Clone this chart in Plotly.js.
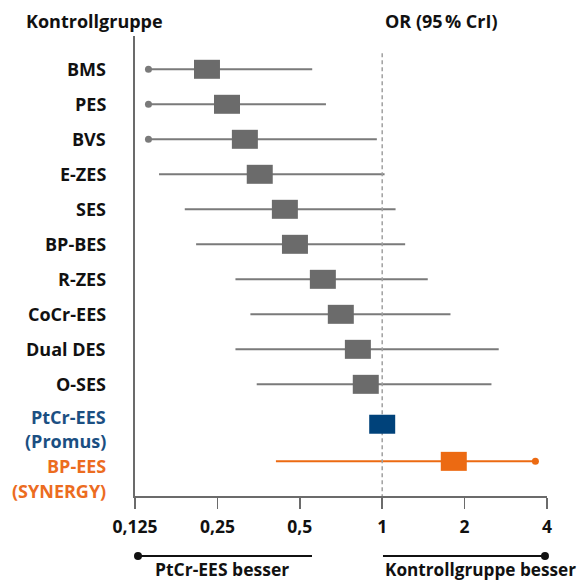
<!DOCTYPE html>
<html>
<head>
<meta charset="utf-8">
<script src="https://cdn.plot.ly/plotly-3.0.1.min.js"></script>
<style>
  html, body { margin: 0; padding: 0; background: #ffffff; }
  #chart { width: 588px; height: 581px; }
</style>
</head>
<body>
<div id="chart"></div>
<script>
// Network meta-analysis: odds ratios vs. PtCr-EES (Promus) with 95% credible intervals
const categories = ["BMS", "PES", "BVS", "E-ZES", "SES", "BP-BES", "R-ZES", "CoCr-EES",
                    "Dual DES", "O-SES", "PtCr-EES\n(Promus)", "BP-EES\n(SYNERGY)"];
const orMedian = [0.229, 0.271, 0.315, 0.357, 0.441, 0.480, 0.607, 0.706, 0.815, 0.871, 1, 1.826];
const crILower = [0.14, 0.14, 0.14, 0.153, 0.190, 0.209, 0.291, 0.330, 0.291, 0.348, null, 0.409];
const crIUpper = [0.555, 0.623, 0.956, 1.02, 1.119, 1.213, 1.467, 1.776, 2.665, 2.507, null, 3.628];
// Intervals that continue past the drawn end are marked with a dot
const lowerDot = [true, true, true, false, false, false, false, false, false, false, false, false];
const upperDot = [false, false, false, false, false, false, false, false, false, false, false, true];
const tickVals = [0.125, 0.25, 0.5, 1, 2, 4];
const tickText = ["0,125", "0,25", "0,5", "1", "2", "4"];

const GREY = "#6b6b6b";
const LINE_GREY = "#7a7a7a";
const BLUE = "#00427a";
const ORANGE = "#ec6a12";
const FONT = "Open Sans, Noto Sans, sans-serif";

// vertical placement: evenly spaced rows, extra room before the two highlighted stents
function rowY(i) {
  if (i < 10) return i;
  return i === 10 ? 10.14 : 11.2;
}
function rowColor(i) {
  if (i === 10) return BLUE;
  if (i === 11) return ORANGE;
  return GREY;
}
function labelColor(i) {
  if (i === 10) return "#1b4f82";
  if (i === 11) return "#ec6c1f";
  return "#111111";
}

const traces = [];
function segTrace(idx, color) {
  const xs = [], ys = [];
  idx.forEach(i => {
    if (crILower[i] == null) return;
    xs.push(crILower[i], crIUpper[i], null);
    ys.push(rowY(i), rowY(i), null);
  });
  return { type: "scatter", mode: "lines", x: xs, y: ys, hoverinfo: "skip",
           line: { color: color, width: 2 }, showlegend: false };
}
const greyIdx = categories.map((_, i) => i).filter(i => i < 10);
traces.push(segTrace(greyIdx, LINE_GREY));
traces.push(segTrace([11], ORANGE));

// end dots
const dx = [], dy = [], dc = [];
categories.forEach((_, i) => {
  if (lowerDot[i]) { dx.push(crILower[i]); dy.push(rowY(i)); dc.push(i === 11 ? ORANGE : LINE_GREY); }
  if (upperDot[i]) { dx.push(crIUpper[i]); dy.push(rowY(i)); dc.push(i === 11 ? ORANGE : LINE_GREY); }
});
traces.push({ type: "scatter", mode: "markers", x: dx, y: dy, hoverinfo: "skip", showlegend: false,
              marker: { symbol: "circle", size: 7, color: dc, line: { width: 0 } }, cliponaxis: false });

const shapes = [];
// reference line at OR = 1
shapes.push({ type: "line", xref: "x", yref: "y", x0: 1, x1: 1, y0: -0.46, y1: 12.19,
              line: { color: "#a0a0a0", width: 1.5, dash: "4px,3px" } });
// point estimates: rectangles 26 px wide (a fixed ratio on the log scale) and 19 px tall
const halfBoxRatio = Math.pow(2, 13 / 82.4);
orMedian.forEach((v, i) => {
  shapes.push({ type: "rect", xref: "x", yref: "y", ysizemode: "pixel",
                yanchor: rowY(i), x0: v / halfBoxRatio, x1: v * halfBoxRatio, y0: -9.5, y1: 9.5,
                fillcolor: rowColor(i), line: { width: 0 } });
});
// direction guides under the axis
const guideY = -0.1304;
shapes.push({ type: "line", xref: "paper", yref: "paper", x0: 0.0073, x1: 0.4296, y0: guideY, y1: guideY,
              line: { color: "#111111", width: 2 } });
shapes.push({ type: "line", xref: "paper", yref: "paper", x0: 0.6019, x1: 0.9951, y0: guideY, y1: guideY,
              line: { color: "#111111", width: 2 } });
[0.0073, 0.9951].forEach(px => {
  shapes.push({ type: "circle", xref: "paper", yref: "paper", ysizemode: "pixel",
                yanchor: guideY, x0: px - 0.0097, x1: px + 0.0097, y0: -4, y1: 4,
                fillcolor: "#111111", line: { width: 0 } });
});

const annotations = [];
const labelFont = (c, s) => ({ family: FONT, size: s || 18, color: c, weight: 700 });
// two-line labels sit a little lower than their markers
const labelShift = { 10: -5, 11: -17 };
categories.forEach((name, i) => {
  const lines = name.split("\n");
  const base = labelShift[i] || 0;
  const lh = 24.5;
  lines.forEach((ln, k) => {
    const off = base - (k - (lines.length - 1) / 2) * lh;
    annotations.push({ xref: "paper", yref: "y", x: -0.066, y: rowY(i), yshift: off,
                       xanchor: "right", yanchor: "middle", showarrow: false,
                       text: ln, font: labelFont(labelColor(i)) });
  });
});
annotations.push({ xref: "paper", yref: "paper", x: -0.2692, y: 1.0333, xanchor: "left", yanchor: "middle",
                   showarrow: false, text: "Kontrollgruppe", font: labelFont("#111111") });
annotations.push({ xref: "paper", yref: "paper", x: 0.7439, y: 1.0333, xanchor: "center", yanchor: "middle",
                   showarrow: false, text: "OR (95\u202f% CrI)", font: labelFont("#111111") });
annotations.push({ xref: "paper", yref: "paper", x: 0.2104, y: -0.1587, xanchor: "center", yanchor: "middle",
                   showarrow: false, text: "PtCr-EES besser", font: labelFont("#111111", 17.5) });
annotations.push({ xref: "paper", yref: "paper", x: 0.6019, y: -0.1587, xanchor: "left", yanchor: "middle",
                   showarrow: false, text: "Kontrollgruppe besser", font: labelFont("#111111", 17.2) });

const layout = {
  width: 588, height: 581,
  margin: { l: 135, r: 41, t: 36, b: 85 },
  paper_bgcolor: "#ffffff", plot_bgcolor: "#ffffff",
  showlegend: false,
  xaxis: {
    type: "log", range: [Math.log10(0.125), Math.log10(4)],
    tickmode: "array", tickvals: tickVals, ticktext: tickText,
    ticks: "outside", ticklen: 11, tickwidth: 1.5, tickcolor: "#6b6b6b",
    showline: true, linecolor: "#6b6b6b", linewidth: 1.5,
    showgrid: false, zeroline: false, ticklabelstandoff: 3,
    tickfont: { family: FONT, size: 17.5, color: "#111111", weight: 700 }
  },
  yaxis: {
    range: [12.19, -0.951], showticklabels: false, ticks: "",
    showline: true, linecolor: "#6b6b6b", linewidth: 2,
    showgrid: false, zeroline: false
  },
  shapes: shapes,
  annotations: annotations
};

Plotly.newPlot("chart", traces, layout, { displayModeBar: false, staticPlot: true });
</script>
</body>
</html>
